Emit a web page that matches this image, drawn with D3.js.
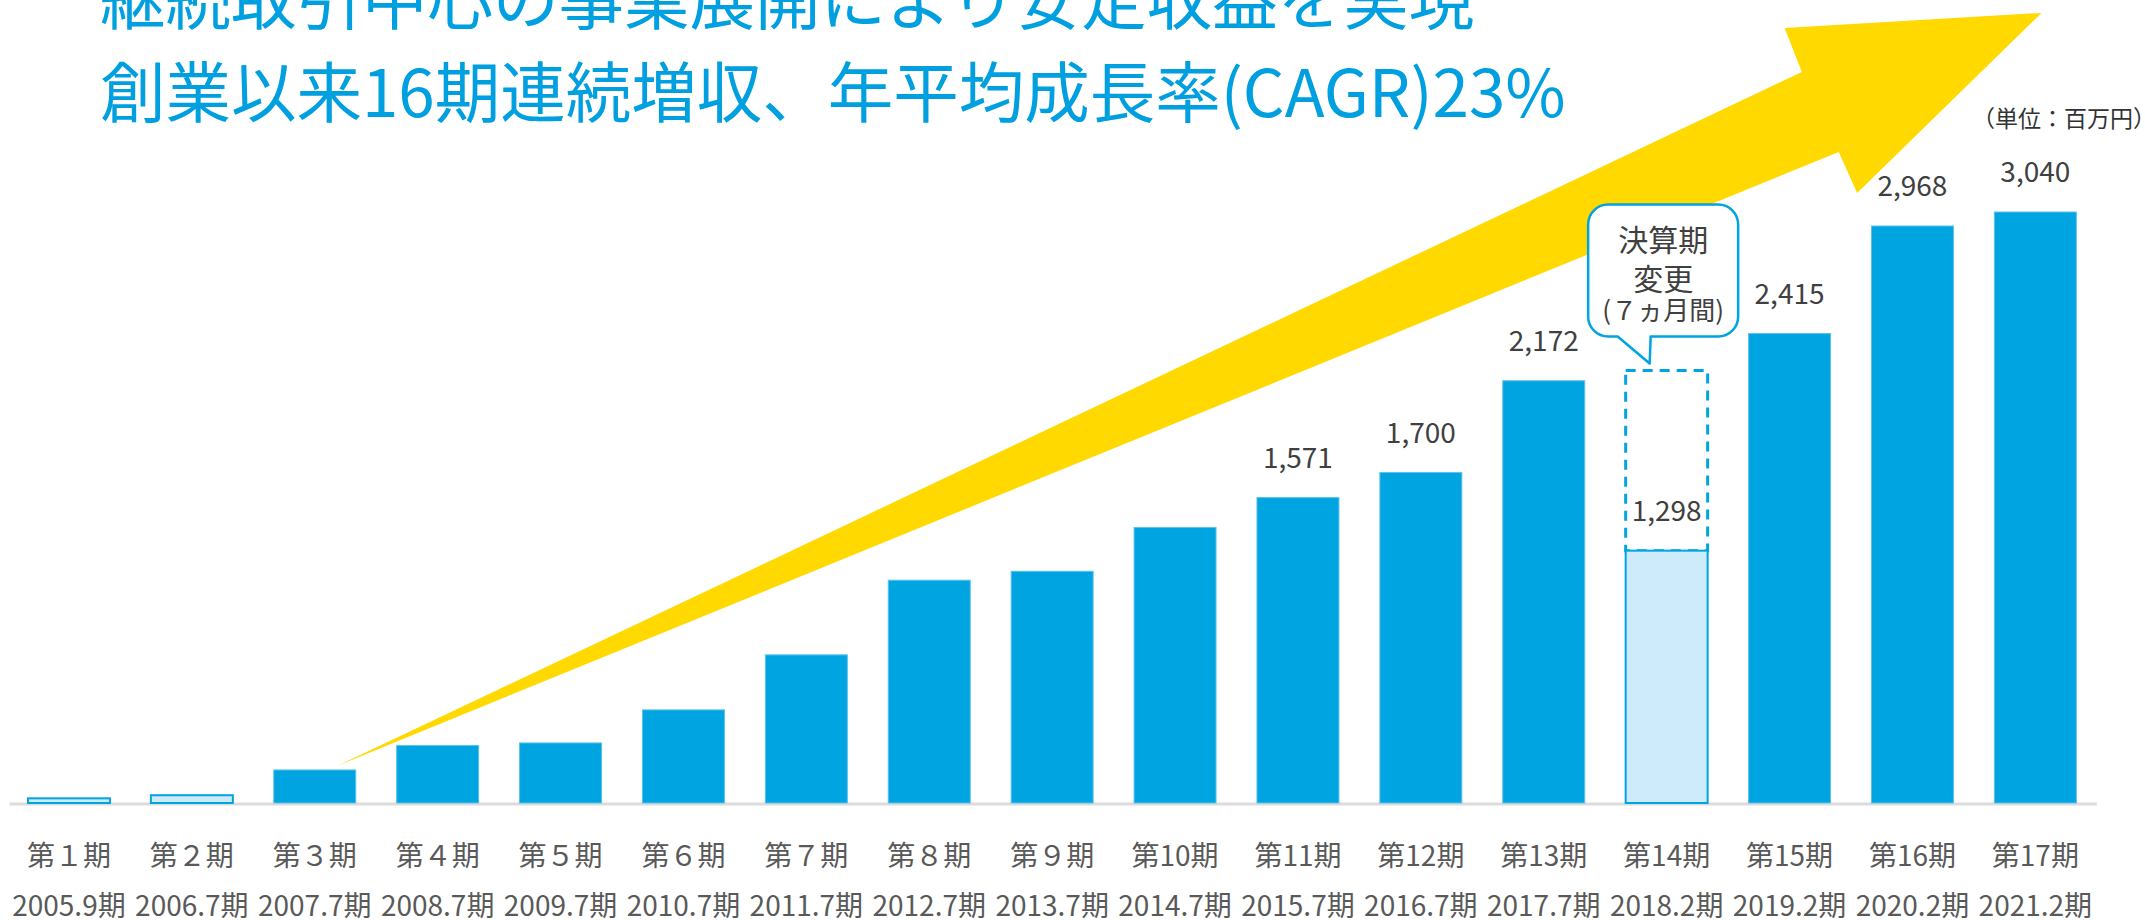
<!DOCTYPE html>
<html>
<head>
<meta charset="utf-8">
<script src="https://cdn.jsdelivr.net/npm/d3@7"></script>
<style>
body { margin: 0; background: #fff; }
text { font-family: "Noto Sans CJK JP", "Noto Sans", sans-serif; }
</style>
</head>
<body>
<svg width="2145" height="920"></svg>
<script>
const periods = ['第１期', '第２期', '第３期', '第４期', '第５期', '第６期', '第７期', '第８期', '第９期',
	'第10期', '第11期', '第12期', '第13期', '第14期', '第15期', '第16期', '第17期']
const fiscalYears = ['2005.9期', '2006.7期', '2007.7期', '2008.7期', '2009.7期', '2010.7期', '2011.7期', '2012.7期',
	'2013.7期', '2014.7期', '2015.7期', '2016.7期', '2017.7期', '2018.2期', '2019.2期', '2020.2期', '2021.2期']
const sales = [24, 40, 170, 296, 309, 479, 762, 1146, 1192, 1417, 1571, 1700, 2172, 1298, 2415, 2968, 3040]
const partialPeriods = ['第１期', '第２期', '第14期']
const labeledPeriods = ['第11期', '第12期', '第13期', '第14期', '第15期', '第16期', '第17期']
const annualized = { period: '第14期', value: 2225 }

const titleLines = ['継続取引中心の事業展開により安定収益を実現', '創業以来16期連続増収、年平均成長率(CAGR)23%']
const unitLabel = '（単位：百万円）'
const calloutLines = ['決算期', '変更', '(７ヵ月間)']

// growth arrow, in [bar position, sales] space
const arrowPoints = [[2.68, 190], [14.60, 3760], [14.46, 3986], [16.55, 4064], [15.05, 3138], [14.90, 3349]]

const svg = d3.select('svg')
const blue = '#00a4e0'
const lightBlue = '#cdebfb'

const x = d3.scaleBand()
	.domain(periods)
	.range([7.5, 2096.8])
	.paddingInner(0.333)
	.paddingOuter(0.1665)

const xPos = d3.scaleLinear().domain([0, periods.length]).range(x.range())

const y = d3.scaleLinear()
	.domain([0, 3040])
	.range([803, 212])

const fmt = d3.format(',')

// title
svg.selectAll('.title')
	.data(titleLines)
	.enter()
	.append('text')
	.attr('class', 'title')
	.attr('x', 100)
	.attr('y', (d, i) => 24 + i * 93)
	.attr('font-size', 65.5)
	.attr('fill', '#00a0e0')
	.text(d => d)

// arrow
svg.append('path')
	.attr('d', d3.line().x(d => xPos(d[0])).y(d => y(d[1])).curve(d3.curveLinearClosed)(arrowPoints))
	.attr('fill', '#ffd900')

// unit
svg.append('text')
	.attr('x', 2156)
	.attr('y', 127)
	.attr('text-anchor', 'end')
	.attr('font-size', 23)
	.attr('fill', '#333')
	.text(unitLabel)

// baseline
svg.append('line')
	.attr('x1', x.range()[0] + 2)
	.attr('x2', x.range()[1])
	.attr('y1', y(0) + 1)
	.attr('y2', y(0) + 1)
	.attr('stroke', '#dcdcdc')
	.attr('stroke-width', 3)

const data = periods.map((p, i) => ({ period: p, year: fiscalYears[i], value: sales[i] }))

// dashed annualized box
svg.append('rect')
	.attr('x', x(annualized.period))
	.attr('y', y(annualized.value))
	.attr('width', x.bandwidth())
	.attr('height', y(sales[periods.indexOf(annualized.period)]) - y(annualized.value))
	.attr('fill', 'none')
	.attr('stroke', blue)
	.attr('stroke-width', 3)
	.attr('stroke-dasharray', '10,7')

svg.selectAll('.bar')
	.data(data)
	.enter()
	.append('rect')
	.attr('class', 'bar')
	.attr('x', d => x(d.period))
	.attr('y', d => y(d.value))
	.attr('width', x.bandwidth())
	.attr('height', d => y(0) - y(d.value))
	.attr('fill', d => partialPeriods.includes(d.period) ? lightBlue : blue)
	.attr('stroke', d => partialPeriods.includes(d.period) ? blue : '#5cc2ec')
	.attr('stroke-width', d => partialPeriods.includes(d.period) ? 2 : 1)

svg.selectAll('.value')
	.data(data.filter(d => labeledPeriods.includes(d.period)))
	.enter()
	.append('text')
	.attr('class', 'value')
	.attr('x', d => x(d.period) + x.bandwidth() / 2)
	.attr('y', d => y(d.value) - 30)
	.attr('text-anchor', 'middle')
	.attr('font-size', 28)
	.attr('fill', '#404040')
	.text(d => fmt(d.value))

// category labels
svg.selectAll('.period')
	.data(data)
	.enter()
	.append('text')
	.attr('class', 'period')
	.attr('x', d => x(d.period) + x.bandwidth() / 2)
	.attr('y', 866)
	.attr('text-anchor', 'middle')
	.attr('font-size', 28)
	.attr('fill', '#595959')
	.text(d => d.period)

svg.selectAll('.year')
	.data(data)
	.enter()
	.append('text')
	.attr('class', 'year')
	.attr('x', d => x(d.period) + x.bandwidth() / 2)
	.attr('y', 916)
	.attr('text-anchor', 'middle')
	.attr('font-size', 28)
	.attr('fill', '#595959')
	.text(d => d.year)

// callout
const bx = x(annualized.period)
const cx = bx + x.bandwidth() / 2 - 3.5
const tipX = bx + 24
const tipY = y(annualized.value) - 7
const boxBottom = tipY - 27
const boxTop = boxBottom - 132
const boxLeft = cx - 75
const boxRight = cx + 75
const r = 20
const callout = d3.path()
callout.moveTo(boxLeft + r, boxTop)
callout.lineTo(boxRight - r, boxTop)
callout.arcTo(boxRight, boxTop, boxRight, boxTop + r, r)
callout.lineTo(boxRight, boxBottom - r)
callout.arcTo(boxRight, boxBottom, boxRight - r, boxBottom, r)
callout.lineTo(tipX + 1, boxBottom)
callout.lineTo(tipX, tipY)
callout.lineTo(tipX - 32, boxBottom)
callout.lineTo(boxLeft + r, boxBottom)
callout.arcTo(boxLeft, boxBottom, boxLeft, boxBottom - r, r)
callout.lineTo(boxLeft, boxTop + r)
callout.arcTo(boxLeft, boxTop, boxLeft + r, boxTop, r)
callout.closePath()

svg.append('path')
	.attr('d', callout.toString())
	.attr('fill', '#fff')
	.attr('stroke', blue)
	.attr('stroke-width', 2.5)
	.attr('stroke-linejoin', 'round')

svg.selectAll('.callout')
	.data(calloutLines)
	.enter()
	.append('text')
	.attr('class', 'callout')
	.attr('x', cx)
	.attr('y', (d, i) => boxTop + [47, 86, 116][i])
	.attr('text-anchor', 'middle')
	.attr('font-size', (d, i) => i < 2 ? 30 : 26)
	.attr('fill', '#404040')
	.text(d => d)
</script>
</body>
</html>
